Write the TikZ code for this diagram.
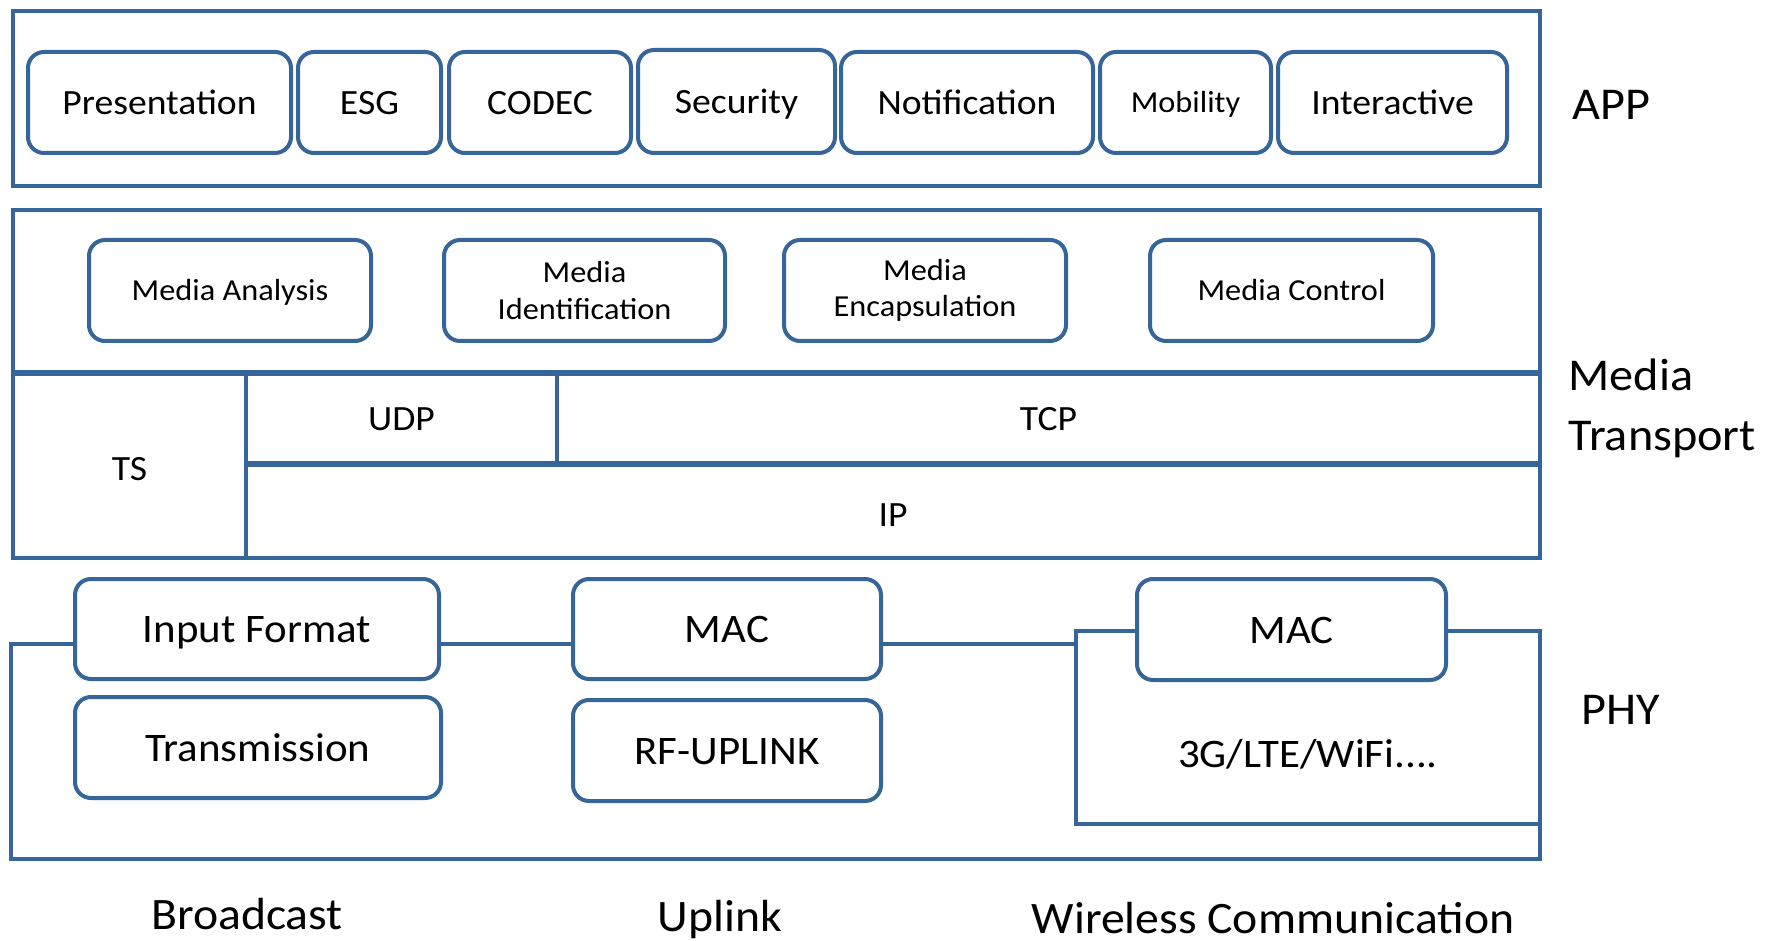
\documentclass[tikz,border=0pt]{standalone}
\usepackage{fontspec}
\setmainfont{Carlito}[FakeStretch=1.06]
\definecolor{bl}{RGB}{54,102,153}
\begin{document}
\begin{tikzpicture}[x=1pt,y=-1pt,
  rbox/.style={draw=bl,line width=4pt,rounded corners=16pt,fill=white,inner sep=0pt,outer sep=0pt,align=center},
  sbox/.style={draw=bl,line width=4pt,fill=white,inner sep=0pt,outer sep=0pt,align=center},
  frame/.style={draw=bl,line width=4pt},
  apptxt/.style={font=\fontsize{35.5}{40}\selectfont,text height=24pt,text depth=0pt},
  medtxt/.style={font=\fontsize{30.5}{36.5}\selectfont},
  medone/.style={medtxt,text height=20.7pt,text depth=0pt},
  nettxt/.style={font=\fontsize{35.5}{40}\selectfont,text height=24pt,text depth=0pt},
  phytxt/.style={font=\fontsize{40.5}{48}\selectfont,text height=27.5pt,text depth=0pt},
  sidetxt/.style={font=\fontsize{45.5}{60}\selectfont,align=left},
  bottxt/.style={font=\fontsize{45}{54}\selectfont,anchor=base}]
\useasboundingbox (0,0) rectangle (1773,941);
\fill[white] (0,0) rectangle (1773,941);
% APP layer
\node[sbox,minimum width=1527pt,minimum height=175pt] (app) at (776.5,98.5) {};
\node[rbox,apptxt,minimum width=263pt,minimum height=101pt] (pres) at (159.5,102.5) {Presentation};
\node[rbox,apptxt,minimum width=143pt,minimum height=101pt] (esg) at (369.5,102.5) {ESG};
\node[rbox,apptxt,minimum width=182pt,minimum height=101pt] (codec) at (540,102.5) {CODEC};
\node[rbox,apptxt,minimum width=197pt,minimum height=103pt] (sec) at (736.5,101.5) {Security};
\node[rbox,apptxt,minimum width=252pt,minimum height=101pt] (notif) at (967,102.5) {Notification};
\node[rbox,medone,minimum width=171pt,minimum height=101pt] (mob) at (1185.5,102.5) {Mobility};
\node[rbox,apptxt,minimum width=229pt,minimum height=101pt] (inter) at (1392.5,102.5) {Interactive};
\node[sidetxt,anchor=west] (applbl) at (1569,105) {APP};
% Media transport layer
\node[sbox,minimum width=1527pt,minimum height=163pt] (mtop) at (776.5,291.5) {};
\node[rbox,medone,minimum width=282pt,minimum height=101pt] (ma) at (230,290.5) {Media Analysis};
\node[rbox,medtxt,minimum width=281pt,minimum height=101pt] (mi) at (584.5,290.5) {Media\\Identification};
\node[rbox,medtxt,minimum width=282pt,minimum height=101pt] (me) at (925,290.5) {Media\\Encapsulation};
\node[rbox,medone,minimum width=283pt,minimum height=101pt] (mc) at (1291.5,290.5) {Media Control};
\node[sbox,nettxt,text height=30pt,minimum width=233pt,minimum height=185pt] (ts) at (129.5,465.5) {TS};
\node[sbox,nettxt,minimum width=311pt,minimum height=91pt] (udp) at (401.5,418.5) {UDP};
\node[sbox,nettxt,minimum width=983pt,minimum height=91pt] (tcp) at (1048.5,418.5) {TCP};
\node[sbox,nettxt,text height=31pt,minimum width=1294pt,minimum height=94pt] (ip) at (893,511) {IP};
\draw[bl,line width=6pt] (ts.north west) -- (tcp.north east);
\draw[bl,line width=6pt] (udp.south west) -- (tcp.south east);
\node[sidetxt,anchor=west] (mtlbl) at (1565,408) {Media\\Transport};
% PHY layer
\coordinate (pl) at (10.5,644);
\coordinate (pbl) at (10.5,859);
\coordinate (pbr) at (1540,859);
\node[sbox,minimum width=464pt,minimum height=193pt] (wbox) at (1308,727.5) {};
\node[phytxt] (wtxt) at (1308,754) {3G/LTE/WiFi....};
\node[rbox,phytxt,minimum width=364pt,minimum height=100pt] (inf) at (257,629) {Input Format};
\node[rbox,phytxt,minimum width=366pt,minimum height=101pt] (trans) at (258,747.5) {Transmission};
\node[rbox,phytxt,minimum width=308pt,minimum height=100pt] (mac1) at (727,629) {MAC};
\node[rbox,phytxt,minimum width=308pt,minimum height=101pt] (rf) at (727,750.5) {RF-UPLINK};
\node[rbox,phytxt,minimum width=309pt,minimum height=101pt] (mac2) at (1291.5,629.5) {MAC};
\draw[frame] (inf.west |- pl) -- (pl) -- (pbl) -- (pbr) -- (wbox.east);
\draw[frame] (inf.east |- pl) -- (mac1.west |- pl);
\draw[frame] (mac1.east |- pl) -- (wbox.west |- pl);
\node[sidetxt,anchor=west] (phylbl) at (1578,710) {PHY};
% bottom labels
\node[bottxt] (bc) at (247,929) {Broadcast};
\node[bottxt] (ul) at (720,931) {Uplink};
\node[bottxt] (wc) at (1273,933) {Wireless Communication};
\end{tikzpicture}
\end{document}
